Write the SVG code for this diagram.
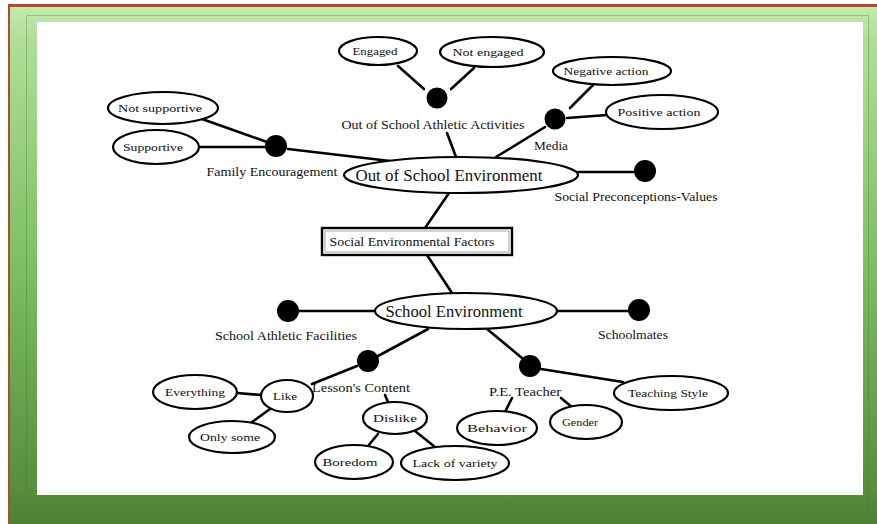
<svg xmlns="http://www.w3.org/2000/svg" width="877" height="524" viewBox="0 0 877 524">
<defs>
<linearGradient id="frame" x1="0" y1="0" x2="0" y2="1">
<stop offset="0" stop-color="#c4eaae"/>
<stop offset="0.06" stop-color="#b0df98"/>
<stop offset="0.5" stop-color="#7cbf60"/>
<stop offset="0.93" stop-color="#578f3c"/>
<stop offset="1" stop-color="#4c8132"/>
</linearGradient>
<style>
.ln{stroke:#000;stroke-width:2.6;fill:none;stroke-linecap:round}
.el{fill:#fff;stroke:#000;stroke-width:2.2}
.dot{fill:#000}
.t{font-family:"Liberation Serif","Times New Roman",serif;font-size:11px;fill:#111;text-anchor:middle}
.lb{font-family:"Liberation Serif","Times New Roman",serif;font-size:12px;fill:#111;text-anchor:middle}
.big{font-family:"Liberation Serif","Times New Roman",serif;font-size:17px;fill:#111;text-anchor:middle}
</style>
</defs>
<rect width="877" height="524" fill="#fff"/>
<g id="frame-border">
<rect x="8" y="4" width="869" height="520" fill="#b24a3a"/>
<rect x="10" y="7" width="867" height="517" fill="url(#frame)"/>
<rect x="26.5" y="15.5" width="842" height="498" fill="none" stroke="#3f7a2a" stroke-opacity="0.35"/>
<rect x="37" y="22" width="826" height="473" fill="#fff"/>
</g>
<g id="connectors">
<line class="ln" x1="202" y1="119" x2="267" y2="142"/>
<line class="ln" x1="199" y1="147" x2="265" y2="147"/>
<line class="ln" x1="288" y1="149" x2="390" y2="161"/>
<line class="ln" x1="398" y1="66" x2="424" y2="89"/>
<line class="ln" x1="474" y1="68" x2="451" y2="89"/>
<line class="ln" x1="447" y1="133" x2="456" y2="157"/>
<line class="ln" x1="593" y1="85" x2="570" y2="108"/>
<line class="ln" x1="607" y1="115" x2="567" y2="118"/>
<line class="ln" x1="545" y1="127" x2="496" y2="157"/>
<line class="ln" x1="578" y1="172" x2="634" y2="172"/>
<line class="ln" x1="449" y1="193" x2="425" y2="228"/>
<line class="ln" x1="427" y1="255" x2="452" y2="293"/>
<line class="ln" x1="299" y1="311" x2="375" y2="311"/>
<line class="ln" x1="557" y1="311" x2="628" y2="311"/>
<line class="ln" x1="428" y1="329" x2="378" y2="356"/>
<line class="ln" x1="357" y1="366" x2="312" y2="384"/>
<line class="ln" x1="237" y1="393" x2="261" y2="395"/>
<line class="ln" x1="270" y1="409" x2="252" y2="422"/>
<line class="ln" x1="385" y1="395" x2="388" y2="402"/>
<line class="ln" x1="378" y1="434" x2="368" y2="446"/>
<line class="ln" x1="415" y1="431" x2="440" y2="451"/>
<line class="ln" x1="487" y1="329" x2="522" y2="358"/>
<line class="ln" x1="541" y1="369" x2="623" y2="382"/>
<line class="ln" x1="512" y1="398" x2="505" y2="412"/>
<line class="ln" x1="561" y1="398" x2="573" y2="408"/>
</g>
<g id="social-environmental-factors">
<rect x="322" y="228" width="190" height="27" fill="#fff" stroke="#000" stroke-width="2.4"/>
<rect x="325" y="231" width="184" height="21" fill="none" stroke="#000" stroke-width="0.7" stroke-opacity="0.5"/>
<text class="lb" x="412" y="246" textLength="165" lengthAdjust="spacingAndGlyphs">Social Environmental Factors</text>
</g>
<g id="out-of-school-environment">
<ellipse class="el" cx="461" cy="175" rx="117" ry="18"/>
<text class="big" x="449" y="181" textLength="187" lengthAdjust="spacingAndGlyphs">Out of School Environment</text>
</g>
<g id="school-environment">
<ellipse class="el" cx="466" cy="311" rx="91" ry="18"/>
<text class="big" x="454" y="317" textLength="137" lengthAdjust="spacingAndGlyphs">School Environment</text>
</g>
<g id="family-encouragement">
<circle class="dot" cx="276" cy="146" r="11"/>
<text class="lb" x="272" y="176" textLength="131" lengthAdjust="spacingAndGlyphs">Family Encouragement</text>
</g>
<g id="not-supportive">
<ellipse class="el" cx="163" cy="108" rx="55" ry="16"/>
<text class="t" x="160" y="112" textLength="84" lengthAdjust="spacingAndGlyphs">Not supportive</text>
</g>
<g id="supportive">
<ellipse class="el" cx="156" cy="147" rx="43" ry="17"/>
<text class="t" x="153" y="151" textLength="60" lengthAdjust="spacingAndGlyphs">Supportive</text>
</g>
<g id="out-of-school-athletic-activities">
<circle class="dot" cx="437" cy="98" r="10.5"/>
<text class="lb" x="433" y="129" textLength="183" lengthAdjust="spacingAndGlyphs">Out of School Athletic Activities</text>
</g>
<g id="engaged">
<ellipse class="el" cx="378" cy="51" rx="39" ry="14"/>
<text class="t" x="375" y="55" textLength="45" lengthAdjust="spacingAndGlyphs">Engaged</text>
</g>
<g id="not-engaged">
<ellipse class="el" cx="492" cy="52" rx="52" ry="15"/>
<text class="t" x="488" y="56" textLength="71" lengthAdjust="spacingAndGlyphs">Not engaged</text>
</g>
<g id="media">
<circle class="dot" cx="555" cy="119" r="10.5"/>
<text class="lb" x="551" y="150" textLength="34" lengthAdjust="spacingAndGlyphs">Media</text>
</g>
<g id="negative-action">
<ellipse class="el" cx="612" cy="71" rx="59" ry="14"/>
<text class="t" x="606" y="75" textLength="85" lengthAdjust="spacingAndGlyphs">Negative action</text>
</g>
<g id="positive-action">
<ellipse class="el" cx="662" cy="112" rx="56" ry="17"/>
<text class="t" x="659" y="116" textLength="83" lengthAdjust="spacingAndGlyphs">Positive action</text>
</g>
<g id="social-preconceptions-values">
<circle class="dot" cx="645" cy="171" r="11"/>
<text class="lb" x="636" y="201" textLength="163" lengthAdjust="spacingAndGlyphs">Social Preconceptions-Values</text>
</g>
<g id="school-athletic-facilities">
<circle class="dot" cx="288" cy="311" r="11"/>
<text class="lb" x="286" y="340" textLength="142" lengthAdjust="spacingAndGlyphs">School Athletic Facilities</text>
</g>
<g id="schoolmates">
<circle class="dot" cx="639" cy="310" r="11"/>
<text class="lb" x="633" y="339" textLength="70" lengthAdjust="spacingAndGlyphs">Schoolmates</text>
</g>
<g id="lessons-content">
<circle class="dot" cx="368" cy="361" r="11"/>
<text class="lb" x="361" y="392" textLength="98" lengthAdjust="spacingAndGlyphs">Lesson's Content</text>
</g>
<g id="like">
<ellipse class="el" cx="287" cy="396" rx="26" ry="16"/>
<text class="t" x="285" y="400" textLength="24" lengthAdjust="spacingAndGlyphs">Like</text>
</g>
<g id="everything">
<ellipse class="el" cx="195" cy="392" rx="42" ry="17"/>
<text class="t" x="195" y="396" textLength="60" lengthAdjust="spacingAndGlyphs">Everything</text>
</g>
<g id="only-some">
<ellipse class="el" cx="232" cy="437" rx="43" ry="16"/>
<text class="t" x="230" y="441" textLength="60" lengthAdjust="spacingAndGlyphs">Only some</text>
</g>
<g id="dislike">
<ellipse class="el" cx="395" cy="418" rx="32" ry="16"/>
<text class="t" x="395" y="422" textLength="44" lengthAdjust="spacingAndGlyphs">Dislike</text>
</g>
<g id="boredom">
<ellipse class="el" cx="354" cy="462" rx="39" ry="17"/>
<text class="t" x="350" y="466" textLength="55" lengthAdjust="spacingAndGlyphs">Boredom</text>
</g>
<g id="lack-of-variety">
<ellipse class="el" cx="455" cy="463" rx="54" ry="17"/>
<text class="t" x="455" y="467" textLength="85" lengthAdjust="spacingAndGlyphs">Lack of variety</text>
</g>
<g id="pe-teacher">
<circle class="dot" cx="530" cy="366" r="11"/>
<text class="lb" x="525" y="396" textLength="72" lengthAdjust="spacingAndGlyphs">P.E. Teacher</text>
</g>
<g id="teaching-style">
<ellipse class="el" cx="671" cy="393" rx="57" ry="17"/>
<text class="t" x="668" y="397" textLength="80" lengthAdjust="spacingAndGlyphs">Teaching Style</text>
</g>
<g id="behavior">
<ellipse class="el" cx="497" cy="428" rx="40" ry="17"/>
<text class="t" x="497" y="432" textLength="60" lengthAdjust="spacingAndGlyphs">Behavior</text>
</g>
<g id="gender">
<ellipse class="el" cx="586" cy="422" rx="36" ry="17"/>
<text class="t" x="580" y="426" textLength="36" lengthAdjust="spacingAndGlyphs">Gender</text>
</g>
</svg>
